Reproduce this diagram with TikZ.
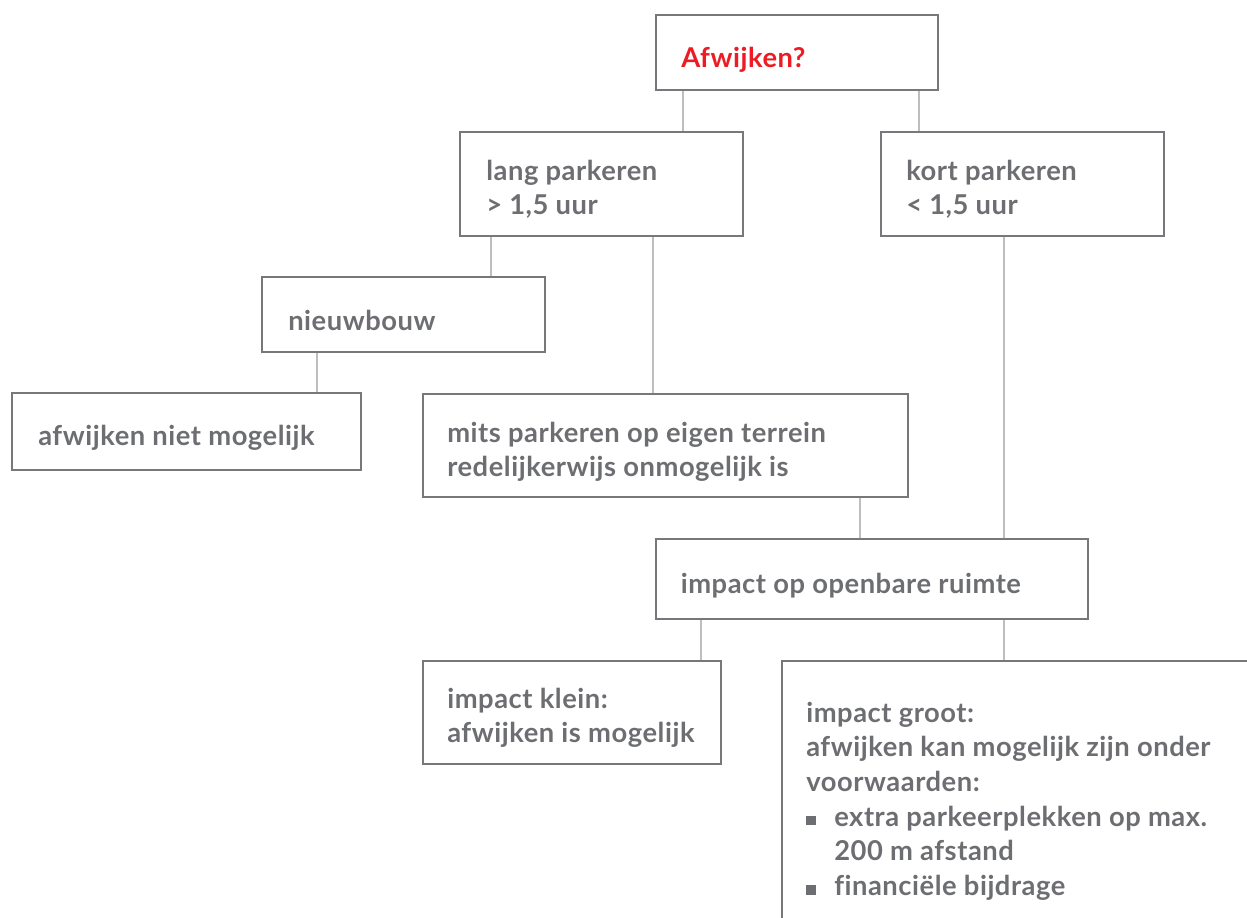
\documentclass[tikz,border=0pt]{standalone}
\usepackage{fontspec}
\setmainfont{Lato}[LetterSpace=2,Ligatures=NoCommon]
\usetikzlibrary{fit}
\definecolor{txtgray}{RGB}{109,110,113}
\definecolor{boxgray}{RGB}{119,120,123}
\definecolor{linegray}{RGB}{188,190,192}
\definecolor{afred}{RGB}{237,28,36}
\newcommand{\blt}{\makebox[21pt][l]{\rule[0.6pt]{7pt}{7pt}}}
\newcommand{\bind}{\hspace*{21pt}}
\begin{document}
\begin{tikzpicture}[x=0.75pt,y=-0.75pt,
  box/.style={draw=boxgray,line width=1.6pt,inner sep=0pt},
  conn/.style={draw=linegray,line width=1.6pt},
  lbl/.style={text=txtgray,font=\fontsize{20.5}{26}\selectfont\bfseries,inner sep=0pt,align=left,anchor=north west}]
\useasboundingbox (0,0) rectangle (1247,918);
\clip (0,0) rectangle (1247,918);
% boxes
\node[box, fit={(656,15)(938,90)}] (top) {};
\node[box, fit={(460,132)(743,236)}] (lang) {};
\node[box, fit={(881,132)(1164,236)}] (kort) {};
\node[box, fit={(262,277)(545,352)}] (nieuw) {};
\node[box, fit={(12,393)(361,470)}] (niet) {};
\node[box, fit={(423,394)(908,497)}] (mits) {};
\node[box, fit={(656,539)(1088,619)}] (impact) {};
\node[box, fit={(423,661)(721,764)}] (klein) {};
\node[box, fit={(782,661)(1400,1100)}] (groot) {};
% texts
\node[lbl, text=afred] (tTop) at (681,42.7) {\strut Afwijken?};
\node[lbl] (tLang) at (486,155.7) {\strut lang parkeren\\> 1,5 uur};
\node[lbl] (tKort) at (906,155.7) {\strut kort parkeren\\< 1,5 uur};
\node[lbl] (tNieuw) at (288,305.7) {\strut nieuwbouw};
\node[lbl] (tNiet) at (38,420.7) {\strut afwijken niet mogelijk};
\node[lbl] (tMits) at (447,417.7) {\strut mits parkeren op eigen terrein\\redelijkerwijs onmogelijk is};
\node[lbl] (tImpact) at (680.5,568.7) {\strut impact op openbare ruimte};
\node[lbl] (tKlein) at (447,683.7) {\strut impact klein:\\afwijken is mogelijk};
\node[lbl] (tGroot) at (806,697.7) {\strut impact groot:\\afwijken kan mogelijk zijn onder\\voorwaarden:\\\blt extra parkeerplekken op max.\\\bind 200 m afstand\\\blt financiële bijdrage};
% connectors
\draw[conn] (683,0 |- top.south) -- (683,0 |- lang.north);
\draw[conn] (919,0 |- top.south) -- (919,0 |- kort.north);
\draw[conn] (491,0 |- lang.south) -- (491,0 |- nieuw.north);
\draw[conn] (653,0 |- lang.south) -- (653,0 |- mits.north);
\draw[conn] (1004,0 |- kort.south) -- (1004,0 |- impact.north);
\draw[conn] (317,0 |- nieuw.south) -- (317,0 |- niet.north);
\draw[conn] (860,0 |- mits.south) -- (860,0 |- impact.north);
\draw[conn] (701,0 |- impact.south) -- (701,0 |- klein.north);
\draw[conn] (1004,0 |- impact.south) -- (1004,0 |- groot.north);
\end{tikzpicture}
\end{document}
